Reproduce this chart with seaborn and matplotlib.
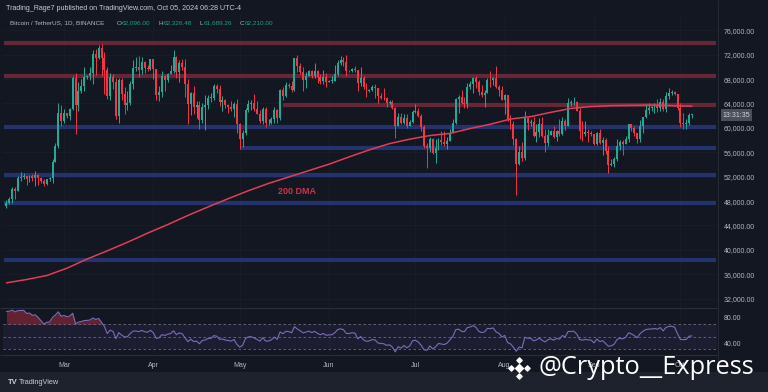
import numpy as np
import pandas as pd
import matplotlib
matplotlib.use('Agg')
import matplotlib.pyplot as plt
import seaborn as sns

# BTC/USDT daily, 2024-02-10 .. 2024-10-05
start_date = '2024-02-10'
first_open = 47130

closes = [
    # Feb 10-29
    47750, 48290, 49960, 49700, 51800, 51940, 52140, 51660, 52140, 51780,
    52260, 51850, 51300, 50730, 51570, 51730, 54480, 57040, 62430, 61130,
    # Mar
    62390, 61990, 63130, 68240, 63780, 66070, 66860, 68300, 68480, 69000,
    72100, 71450, 73070, 71390, 69500, 65300, 68390, 67600, 61940, 67840,
    65500, 63800, 64040, 67210, 69880, 69990, 69450, 70780, 69850, 69580, 71280,
    # Apr
    69650, 65460, 65960, 68490, 67820, 68890, 69350, 71620, 69140, 70590,
    70060, 67150, 63920, 65740, 63420, 63810, 61280, 63470, 63820, 64940,
    64940, 66820, 66410, 64280, 64500, 63770, 63460, 63120, 63840, 60640,
    # May
    58250, 59120, 62890, 63890, 64030, 63160, 62330, 61190, 63070, 60790,
    60820, 61450, 62900, 61550, 66250, 65230, 67040, 66920, 66270, 71450,
    70140, 69120, 67930, 68530, 69290, 68500, 69390, 68300, 67650, 68350, 67490,
    # Jun
    67710, 67750, 68800, 70570, 71080, 70760, 69340, 69300, 69650, 69510,
    67320, 68240, 66750, 66010, 66190, 66640, 66490, 65150, 64960, 64830,
    64100, 64250, 63180, 60280, 61800, 60860, 61670, 60320, 60890, 62680,
    # Jul
    62850, 62030, 60200, 57040, 56660, 58230, 55850, 56710, 58050, 57720,
    57340, 57880, 59200, 60790, 64720, 65040, 64090, 63970, 66660, 67140,
    68170, 67550, 65930, 65370, 65780, 67900, 67810, 68240, 66780, 66190, 64620,
    # Aug
    65350, 61500, 60680, 58120, 54020, 56040, 55130, 61690, 60840, 60920,
    58710, 59350, 60600, 58740, 57560, 58870, 59480, 58440, 59490, 59010,
    61160, 60380, 64090, 64180, 64260, 62830, 59420, 59030, 59380, 59120, 58970,
    # Sep
    57300, 59130, 57480, 57970, 56160, 53960, 54160, 54880, 57040, 57650,
    57340, 58130, 60570, 60000, 59180, 58210, 60310, 61760, 62950, 63200,
    63350, 63580, 63340, 64260, 63150, 65180, 65790, 65880, 65600, 63330,
    # Oct 1-5
    60800, 60650, 60750, 62080, 62210,
]

highs = [
    48170, 48590, 50330, 50370, 52040, 52820, 52600, 52190, 52360, 52480,
    52990, 52370, 52000, 51550, 51700, 51950, 54900, 57570, 64000, 63680,
    63110, 62430, 63230, 68500, 69000, 67600, 67980, 69990, 68670, 69980,
    72800, 72970, 73650, 73780, 72360, 70000, 68920, 68900, 68120, 68100,
    68240, 66650, 65980, 67620, 71150, 71560, 71730, 71550, 70920, 70320, 71370,
    71290, 69680, 66910, 69290, 68730, 69000, 70280, 72780, 71720, 71170,
    71250, 71220, 67950, 65840, 66870, 64370, 64480, 64130, 65450, 65390,
    65700, 67230, 67200, 67070, 65290, 64790, 63910, 64370, 64200, 64730,
    60850, 59600, 63320, 64500, 64650, 65500, 64400, 62990, 63420, 63460,
    61500, 61820, 63450, 63130, 66450, 66700, 67450, 67400, 67700, 71520,
    71980, 70650, 70050, 69220, 69560, 69510, 70600, 69560, 68900, 69500, 69000,
    67860, 68430, 70270, 71060, 71760, 71630, 71950, 69560, 69850, 70190,
    69560, 69990, 68450, 67300, 66400, 66950, 67270, 66500, 65700, 66480,
    65070, 64520, 64500, 63360, 62360, 62480, 62350, 62200, 61220, 63000,
    63850, 63300, 62290, 60500, 57500, 58480, 58350, 58260, 58300, 59500,
    59470, 58530, 59850, 61420, 64900, 65390, 66130, 65110, 67400, 67620,
    68380, 68480, 67800, 67100, 66160, 68230, 69400, 68320, 70080, 66990, 66830,
    65590, 65000, 62180, 61110, 58300, 57040, 57700, 62750, 61750, 61460,
    61800, 60700, 61580, 61800, 59850, 59800, 59650, 60260, 59600, 61400,
    61830, 61400, 64950, 64500, 65000, 64480, 63210, 61180, 61170, 59860, 59430,
    59060, 59400, 59800, 58500, 58330, 56990, 54850, 55300, 58100, 58050,
    57990, 58600, 60670, 60660, 60390, 59210, 61370, 61790, 63880, 64140,
    63560, 64000, 64750, 64820, 64700, 65840, 66500, 66260, 66080, 65550,
    64130, 62390, 61480, 62480, 62330,
]

lows = [
    46800, 47540, 47710, 48300, 49580, 51300, 51620, 50630, 51180, 51340,
    50520, 50630, 50930, 50520, 50580, 51280, 50900, 54450, 56690, 60350,
    60770, 61650, 61320, 62900, 59000, 62800, 65650, 66080, 68020, 67930,
    67200, 68620, 71330, 68560, 65630, 64780, 64530, 66430, 61500, 60780,
    64530, 62260, 63000, 63790, 66390, 69280, 68380, 68900, 69030, 69280, 69560,
    68060, 64550, 64490, 65090, 66010, 67450, 68790, 69050, 68210, 67500,
    69560, 65090, 60660, 62130, 62290, 61600, 59770, 60800, 59600, 63100,
    64270, 64500, 65800, 63600, 62790, 63300, 62400, 62800, 61800, 59190,
    56550, 56940, 58850, 62610, 62950, 62700, 62260, 60880, 60650, 60190,
    60460, 60620, 60760, 60880, 61300, 64600, 65110, 66600, 65860, 66060,
    69160, 68860, 66100, 66620, 68500, 68200, 68250, 67300, 67130, 67120, 66680,
    67450, 67310, 67610, 68500, 70380, 70100, 68500, 69210, 69130, 69230,
    66050, 66900, 66300, 65080, 65900, 66050, 64970, 64080, 64700, 64520,
    63380, 63950, 63160, 58400, 60260, 60600, 60600, 60060, 60300, 60800,
    62520, 61760, 59460, 56770, 53500, 56000, 55760, 54260, 56400, 57200,
    57050, 56600, 57770, 59200, 60630, 62440, 63870, 63240, 63320, 66440,
    65770, 66610, 65380, 65110, 63450, 65760, 66630, 67000, 66490, 65300, 64520,
    62250, 61200, 59850, 57120, 49000, 53960, 54560, 54750, 59590, 60290,
    58500, 57650, 58430, 58430, 56080, 57050, 58780, 58400, 57870, 58600,
    58780, 59730, 60350, 63540, 63790, 62800, 58120, 57850, 58740, 57720, 58740,
    57200, 57120, 57410, 55600, 55670, 52550, 53750, 53650, 54600, 56400,
    55550, 57320, 57630, 59450, 58700, 57490, 57620, 59170, 61580, 62350,
    62760, 62400, 62600, 62690, 62700, 62670, 64800, 65420, 65420, 62860,
    60170, 59830, 59830, 60460, 61690,
]

# closes before the window, only used to warm up the RSI
jan_closes = [39570, 39880, 40080, 39940, 41820, 42120, 42030, 43300, 42940,
              42580, 43080, 43190, 42990, 42580, 42660, 43090, 44340, 45290, 47130]

# 200 DMA, one point per week
dma_day = list(range(0, 239, 7))
dma_vals = [34600, 35150, 35800, 37000, 38500, 39850, 41250, 42750, 44150, 45650,
            47050, 48400, 49700, 50900, 51950, 53000, 54050, 55250, 56400, 57420,
            58150, 58750, 59100, 59900, 60600, 61450, 61850, 62550, 63200, 63500,
            63650, 63700, 63750, 63650, 63550]

# horizontal levels: (price, first day index)
resist_levels = [(73850, -1), (68500, -1), (63700, 96)]
support_levels = [(60100, -1), (56700, 81), (52250, -1), (47700, -1), (38400, -1)]

price_ticks = list(range(32000, 76001, 4000))
rsi_ticks = [80, 40]
month_names = ['Mar', 'Apr', 'May', 'Jun', 'Jul', 'Aug', 'Sep', 'Oct']

bg = '#131722'
up_col = '#22ab94'
dn_col = '#f23645'
txt_col = '#b2b5be'

sns.set_theme(style='dark', rc={'axes.facecolor': bg, 'figure.facecolor': bg})
plt.rcParams['font.family'] = ['Liberation Sans', 'DejaVu Sans']

dates = pd.date_range(start_date, periods=len(closes), freq='D')
df = pd.DataFrame({'date': dates, 'close': closes, 'high': highs, 'low': lows})
df['open'] = [first_open] + closes[:-1]
df['day'] = np.arange(len(df))
df['high'] = df[['high', 'open', 'close']].max(axis=1)
df['low'] = df[['low', 'open', 'close']].min(axis=1)
df['up'] = df['close'] >= df['open']

# RSI 14 (Wilder)
allc = pd.Series(jan_closes + closes, dtype=float)
delta = allc.diff().iloc[1:]
gain = delta.clip(lower=0).ewm(alpha=1 / 14, adjust=False).mean()
loss = (-delta.clip(upper=0)).ewm(alpha=1 / 14, adjust=False).mean()
rsi_all = 100 - 100 / (1 + gain / loss)
df['rsi'] = rsi_all.iloc[len(jan_closes) - 1:].to_numpy()

month_days = [df.index[(df['date'].dt.day == 1) & (df['date'].dt.month == m)][0] for m in range(3, 11)]

W, H = 768, 392
fig = plt.figure(figsize=(W / 100, H / 100), dpi=100, facecolor=bg)
ax = fig.add_axes([3 / W, 85 / H, 714 / W, 293 / H])
rax = fig.add_axes([3 / W, 38 / H, 714 / W, 46 / H])
xlim = (-1.2, 246.7)

# --- price pane ---
ax.set_facecolor(bg)
ax.set_xlim(*xlim)
ax.set_ylim(30640, 78670)
ax.set_xticks(month_days)
ax.set_xticklabels([])
ax.set_yticks(price_ticks)
ax.set_yticklabels([f'{v:,.2f}' for v in price_ticks])
ax.yaxis.tick_right()
ax.tick_params(axis='both', length=0, labelsize=5, labelcolor=txt_col, pad=5)
ax.grid(True, color='#1a1e29', lw=0.6)

for lvl, x0 in resist_levels:
    ax.hlines(lvl, x0, 246.2, colors='#652638', lw=3.0, zorder=1)
for lvl, x0 in support_levels:
    ax.hlines(lvl, x0, 246.2, colors='#24336c', lw=3.0, zorder=1)

cols = np.where(df['up'], up_col, dn_col)
ax.vlines(df['day'], df['low'], df['high'], colors=cols, lw=0.7, zorder=3)
body_lo = df[['open', 'close']].min(axis=1)
body_h = (df['close'] - df['open']).abs().clip(lower=60)
ax.bar(df['day'], body_h, bottom=body_lo, width=0.68, color=cols, lw=0, zorder=4)

sns.lineplot(x=dma_day, y=dma_vals, ax=ax, color='#e23d58', lw=1.1, zorder=5)
ax.text(101, 49500, '200 DMA', color='#c8344b', fontsize=6.5, fontweight='bold',
        ha='center', va='center')
ax.set_xlabel('')
ax.set_ylabel('')
for s in ax.spines.values():
    s.set_visible(False)

# --- RSI pane ---
rax.set_facecolor(bg)
rax.set_xlim(*xlim)
rax.set_ylim(22.4, 96)
rax.axhspan(30, 70, color='#7e57c2', alpha=0.1, lw=0)
for lv in [70, 50, 30]:
    rax.axhline(lv, color='#6a6d78', lw=0.6, ls=(0, (3, 3)))
rax.fill_between(df['day'], df['rsi'], 70, where=df['rsi'] >= 70, interpolate=True,
                 color='#a52c40', alpha=0.55, lw=0)
sns.lineplot(data=df, x='day', y='rsi', ax=rax, color='#7a6db8', lw=0.8)
rax.set_xlabel('')
rax.set_ylabel('')
rax.yaxis.tick_right()
rax.set_yticks(rsi_ticks)
rax.set_yticklabels([f'{v:.2f}' for v in rsi_ticks])
rax.set_xticks(month_days)
rax.set_xticklabels(month_names)
rax.tick_params(axis='both', length=0, labelsize=5, labelcolor=txt_col)
rax.tick_params(axis='x', pad=6)
rax.tick_params(axis='y', pad=5)
rax.grid(True, axis='x', color='#1a1e29', lw=0.6)
rax.grid(False, axis='y')
for s in rax.spines.values():
    s.set_visible(False)

# --- overlay in pixel coords: header, separators, footer, watermark ---
ov = fig.add_axes([0, 0, 1, 1], facecolor='none')
ov.set_xlim(0, W)
ov.set_ylim(H, 0)
ov.axis('off')
ov.hlines([307.5, 354.5], 0, 717, colors='#2a2e39', lw=0.8)
ov.vlines(717.5, 0, 372, colors='#2a2e39', lw=0.6)
ov.add_patch(plt.Rectangle((0, 372), W, 20, color='#1e222d', lw=0))

ov.text(6, 8, 'Trading_Rage7 published on TradingView.com, Oct 05, 2024 06:28 UTC-4',
        fontsize=5.1, color='#c9ccd4', va='center')
ov.text(10.5, 23, 'Bitcoin / TetherUS, 1D, BINANCE', fontsize=4.6, color='#b2b5be', va='center')
ohlc = [('O', '62,096.00', 117), ('H', '62,326.48', 158.5), ('L', '61,689.26', 199), ('C', '62,210.00', 239.5)]
for k, v, x in ohlc:
    ov.text(x, 23, k, fontsize=4.6, color='#b2b5be', va='center')
    ov.text(x + 5, 23, v, fontsize=4.6, color='#1f9e86', va='center')

ov.text(736.5, 115, '13:31:35', fontsize=5, color='#d1d4dc', ha='center', va='center',
        bbox=dict(boxstyle='square,pad=0.3', fc='#4a4f5c', ec='none'))

ov.text(8, 382, 'TV', fontsize=5.5, color='#c9ccd4', fontweight='bold', va='center')
ov.text(19, 382, 'TradingView', fontsize=5.3, color='#c9ccd4', va='center')

# binance-like logo + handle
ov.scatter([519], [368], marker='D', s=16, color='white', zorder=10)
ov.scatter([511, 527, 519, 519], [368, 368, 360, 376], marker='D', s=7, color='white', zorder=10)
ov.text(539, 368, '@Crypto__Express', fontsize=18.3, color='white', va='center', ha='left',
        family=['Open Sans', 'DejaVu Sans'], zorder=10)

fig.savefig('out.png', dpi=100, facecolor=bg)
